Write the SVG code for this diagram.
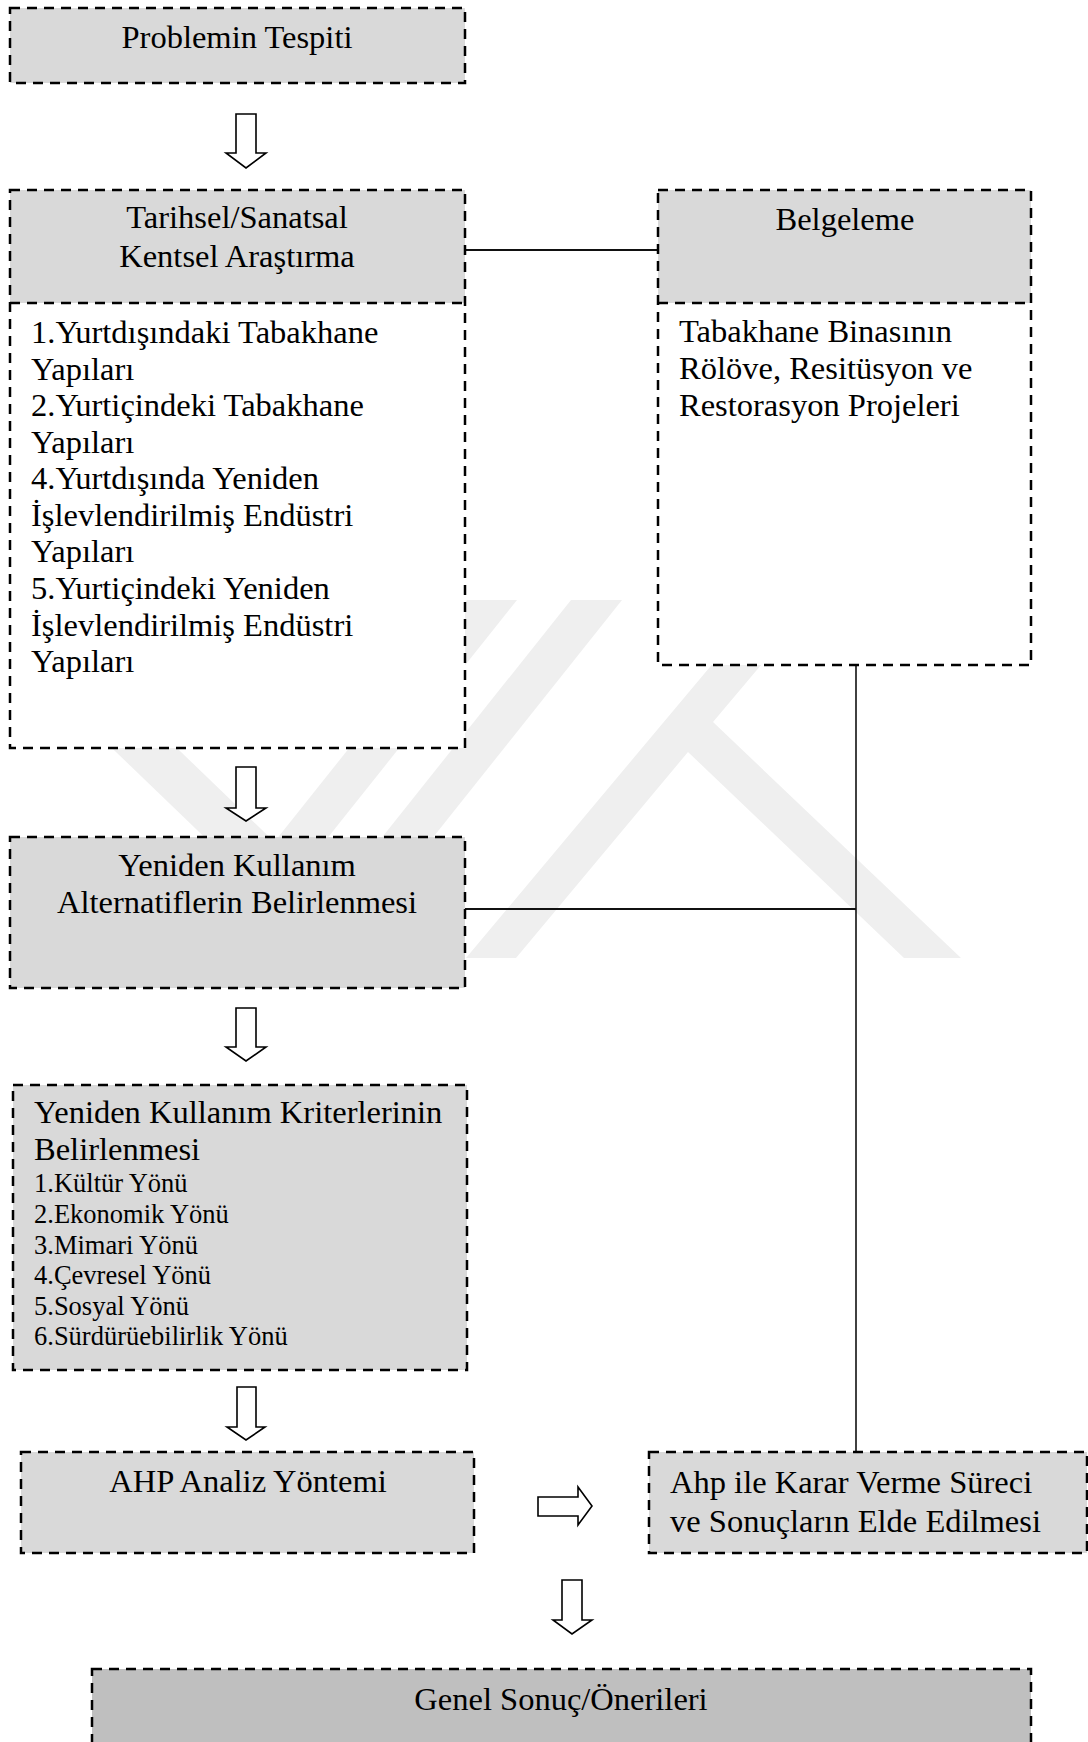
<svg xmlns="http://www.w3.org/2000/svg" width="1088" height="1742" viewBox="0 0 1088 1742">
<style>
.box{stroke:#000;stroke-width:2.5;stroke-dasharray:10 7}
.dl{stroke:#000;stroke-width:2.5;stroke-dasharray:10 7;fill:none}
.g{fill:#d9d9d9}
.g2{fill:#bfbfbf}
.w{fill:#fff}
.t{font-family:"Liberation Serif","Times New Roman",serif;font-size:32.5px;fill:#000}
.s{font-family:"Liberation Serif","Times New Roman",serif;font-size:26.5px;fill:#000}
.c{text-anchor:middle}
.arr{fill:#fff;stroke:#000;stroke-width:1.6;stroke-linejoin:miter}
.ln{stroke:#111;stroke-width:2;fill:none}
.wm{fill:#efefef}
</style>
<rect width="1088" height="1742" fill="#fff"/>
<g id="watermark">
<polygon class="wm" points="62,700 127,700 395,958 330,958"/>
<polygon class="wm" points="467,600 517,600 232,958 182,958"/>
<polygon class="wm" points="571,600 622,600 337,958 286,958"/>
<polygon class="wm" points="766,600 816,600 713,722 961,958 904,958 688,752 516,958 466,958"/>
</g>
<g id="connectors">
<line class="ln" x1="465" y1="250" x2="658" y2="250"/>
<line class="ln" x1="465" y1="909" x2="856" y2="909"/>
<line class="ln" x1="856" y1="665" x2="856" y2="1452" style="stroke-width:1.6"/>
<polygon class="arr" points="236,114 256,114 256,153 266,153 246,168 226,153 236,153"/>
<polygon class="arr" points="236,767 256,767 256,808 266,808 246,821 226,808 236,808"/>
<polygon class="arr" points="236,1008 256,1008 256,1047 266,1047 246,1061 226,1047 236,1047"/>
<polygon class="arr" points="237,1387 256,1387 256,1427 265,1427 246,1440 227,1427 237,1427"/>
<polygon class="arr" points="538,1497 578,1497 578,1487 592,1506 578,1525 578,1516 538,1516"/>
<polygon class="arr" points="562,1580 582,1580 582,1620 592,1620 572,1634 553,1620 562,1620"/>
</g>
<g id="n1">
<rect class="box g" x="10" y="8" width="455" height="75"/>
<text class="t c" x="237" y="48">Problemin Tespiti</text>
</g>
<g id="n2">
<rect class="w" x="10" y="190" width="455" height="558"/>
<rect class="g" x="10" y="190" width="455" height="113"/>
<rect class="box" fill="none" x="10" y="190" width="455" height="558"/>
<line class="dl" x1="10" y1="303" x2="465" y2="303"/>
<text class="t c" x="237" y="228">Tarihsel/Sanatsal</text>
<text class="t c" x="237" y="267">Kentsel Araştırma</text>
<text class="t" x="31" y="343">1.Yurtdışındaki Tabakhane</text>
<text class="t" x="31" y="380">Yapıları</text>
<text class="t" x="31" y="416">2.Yurtiçindeki Tabakhane</text>
<text class="t" x="31" y="453">Yapıları</text>
<text class="t" x="31" y="489">4.Yurtdışında Yeniden</text>
<text class="t" x="31" y="526">İşlevlendirilmiş Endüstri</text>
<text class="t" x="31" y="562">Yapıları</text>
<text class="t" x="31" y="599">5.Yurtiçindeki Yeniden</text>
<text class="t" x="31" y="636">İşlevlendirilmiş Endüstri</text>
<text class="t" x="31" y="672">Yapıları</text>
</g>
<g id="n3">
<rect class="w" x="658" y="190" width="373" height="475"/>
<rect class="g" x="658" y="190" width="373" height="113"/>
<rect class="box" fill="none" x="658" y="190" width="373" height="475"/>
<line class="dl" x1="658" y1="303" x2="1031" y2="303"/>
<text class="t c" x="845" y="230">Belgeleme</text>
<text class="t" x="679" y="342">Tabakhane Binasının</text>
<text class="t" x="679" y="379">Rölöve, Resitüsyon ve</text>
<text class="t" x="679" y="416">Restorasyon Projeleri</text>
</g>
<g id="n4">
<rect class="box g" x="10" y="837" width="455" height="151"/>
<text class="t c" x="237" y="876">Yeniden Kullanım</text>
<text class="t c" x="237" y="913">Alternatiflerin Belirlenmesi</text>
</g>
<g id="n5">
<rect class="box g" x="13" y="1085" width="454" height="285"/>
<text class="t" x="34" y="1123">Yeniden Kullanım Kriterlerinin</text>
<text class="t" x="34" y="1160">Belirlenmesi</text>
<text class="s" x="34" y="1192">1.Kültür Yönü</text>
<text class="s" x="34" y="1223">2.Ekonomik Yönü</text>
<text class="s" x="34" y="1254">3.Mimari Yönü</text>
<text class="s" x="34" y="1284">4.Çevresel Yönü</text>
<text class="s" x="34" y="1315">5.Sosyal Yönü</text>
<text class="s" x="34" y="1345">6.Sürdürüebilirlik Yönü</text>
</g>
<g id="n6">
<rect class="box g" x="21" y="1452" width="453" height="101"/>
<text class="t c" x="248" y="1492">AHP Analiz Yöntemi</text>
</g>
<g id="n7">
<rect class="box g" x="649" y="1452" width="438" height="101"/>
<text class="t" x="670" y="1493">Ahp ile Karar Verme Süreci</text>
<text class="t" x="670" y="1532">ve Sonuçların Elde Edilmesi</text>
</g>
<g id="n8">
<rect class="box g2" x="92" y="1669" width="939" height="110"/>
<text class="t c" x="561" y="1710">Genel Sonuç/Önerileri</text>
</g>
</svg>
